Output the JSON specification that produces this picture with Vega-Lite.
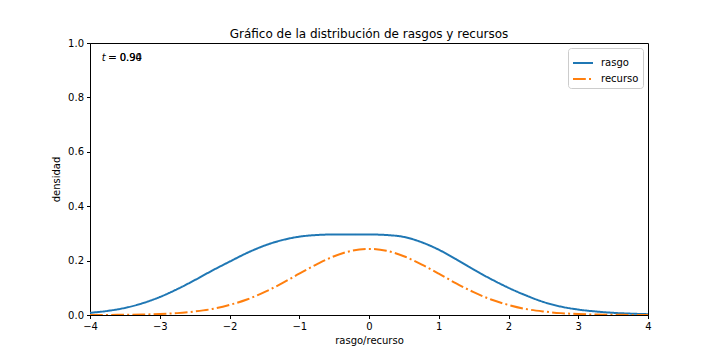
{
  "$schema": "https://vega.github.io/schema/vega-lite/v6.json",
  "width": 558,
  "height": 272,
  "autosize": {"type": "none"},
  "padding": {"left": 90, "top": 43, "right": 72, "bottom": 45},
  "background": "white",
  "title": {"text": "Gráfico de la distribución de rasgos y recursos", "font": "DejaVu Sans", "fontSize": 12, "fontWeight": "normal", "color": "black", "offset": -3},
  "config": {
    "view": {"stroke": "black", "strokeWidth": 1},
    "axis": {"domainColor": "black", "tickColor": "black", "tickSize": 3.5, "labelColor": "black", "labelFont": "DejaVu Sans", "labelFontSize": 10, "labelPadding": 3, "labelFlush": false, "titleFont": "DejaVu Sans", "titleFontSize": 10, "titleFontWeight": "normal", "titleColor": "black", "grid": false},
    "legend": {"labelFont": "DejaVu Sans", "labelFontSize": 10, "labelColor": "black"}
  },
  "datasets": {
    "curvas": [
      {"x": -4, "densidad": 0.008, "serie": "rasgo"},
      {"x": -3.75, "densidad": 0.015, "serie": "rasgo"},
      {"x": -3.5, "densidad": 0.026, "serie": "rasgo"},
      {"x": -3.25, "densidad": 0.043, "serie": "rasgo"},
      {"x": -3, "densidad": 0.066, "serie": "rasgo"},
      {"x": -2.75, "densidad": 0.095, "serie": "rasgo"},
      {"x": -2.5, "densidad": 0.128, "serie": "rasgo"},
      {"x": -2.25, "densidad": 0.163, "serie": "rasgo"},
      {"x": -2, "densidad": 0.196, "serie": "rasgo"},
      {"x": -1.75, "densidad": 0.228, "serie": "rasgo"},
      {"x": -1.5, "densidad": 0.255, "serie": "rasgo"},
      {"x": -1.25, "densidad": 0.275, "serie": "rasgo"},
      {"x": -1, "densidad": 0.288, "serie": "rasgo"},
      {"x": -0.75, "densidad": 0.294, "serie": "rasgo"},
      {"x": -0.5, "densidad": 0.296, "serie": "rasgo"},
      {"x": -0.25, "densidad": 0.296, "serie": "rasgo"},
      {"x": 0, "densidad": 0.296, "serie": "rasgo"},
      {"x": 0.25, "densidad": 0.294, "serie": "rasgo"},
      {"x": 0.5, "densidad": 0.287, "serie": "rasgo"},
      {"x": 0.75, "densidad": 0.268, "serie": "rasgo"},
      {"x": 1, "densidad": 0.24, "serie": "rasgo"},
      {"x": 1.25, "densidad": 0.205, "serie": "rasgo"},
      {"x": 1.5, "densidad": 0.167, "serie": "rasgo"},
      {"x": 1.75, "densidad": 0.132, "serie": "rasgo"},
      {"x": 2, "densidad": 0.1, "serie": "rasgo"},
      {"x": 2.25, "densidad": 0.072, "serie": "rasgo"},
      {"x": 2.5, "densidad": 0.048, "serie": "rasgo"},
      {"x": 2.75, "densidad": 0.031, "serie": "rasgo"},
      {"x": 3, "densidad": 0.02, "serie": "rasgo"},
      {"x": 3.25, "densidad": 0.013, "serie": "rasgo"},
      {"x": 3.5, "densidad": 0.008, "serie": "rasgo"},
      {"x": 3.75, "densidad": 0.005, "serie": "rasgo"},
      {"x": 4, "densidad": 0.003, "serie": "rasgo"},
      {"x": -4, "densidad": 0.0001, "serie": "recurso"},
      {"x": -3.75, "densidad": 0.0003, "serie": "recurso"},
      {"x": -3.5, "densidad": 0.0008, "serie": "recurso"},
      {"x": -3.25, "densidad": 0.0017, "serie": "recurso"},
      {"x": -3, "densidad": 0.0035, "serie": "recurso"},
      {"x": -2.75, "densidad": 0.0069, "serie": "recurso"},
      {"x": -2.5, "densidad": 0.013, "serie": "recurso"},
      {"x": -2.25, "densidad": 0.022, "serie": "recurso"},
      {"x": -2, "densidad": 0.037, "serie": "recurso"},
      {"x": -1.75, "densidad": 0.057, "serie": "recurso"},
      {"x": -1.5, "densidad": 0.084, "serie": "recurso"},
      {"x": -1.25, "densidad": 0.116, "serie": "recurso"},
      {"x": -1, "densidad": 0.152, "serie": "recurso"},
      {"x": -0.75, "densidad": 0.186, "serie": "recurso"},
      {"x": -0.5, "densidad": 0.216, "serie": "recurso"},
      {"x": -0.25, "densidad": 0.236, "serie": "recurso"},
      {"x": 0, "densidad": 0.243, "serie": "recurso"},
      {"x": 0.25, "densidad": 0.236, "serie": "recurso"},
      {"x": 0.5, "densidad": 0.216, "serie": "recurso"},
      {"x": 0.75, "densidad": 0.186, "serie": "recurso"},
      {"x": 1, "densidad": 0.152, "serie": "recurso"},
      {"x": 1.25, "densidad": 0.116, "serie": "recurso"},
      {"x": 1.5, "densidad": 0.084, "serie": "recurso"},
      {"x": 1.75, "densidad": 0.057, "serie": "recurso"},
      {"x": 2, "densidad": 0.037, "serie": "recurso"},
      {"x": 2.25, "densidad": 0.022, "serie": "recurso"},
      {"x": 2.5, "densidad": 0.013, "serie": "recurso"},
      {"x": 2.75, "densidad": 0.0069, "serie": "recurso"},
      {"x": 3, "densidad": 0.0035, "serie": "recurso"},
      {"x": 3.25, "densidad": 0.0017, "serie": "recurso"},
      {"x": 3.5, "densidad": 0.0008, "serie": "recurso"},
      {"x": 3.75, "densidad": 0.0003, "serie": "recurso"},
      {"x": 4, "densidad": 0.0001, "serie": "recurso"}
    ],
    "simbolo": [{"x": -3.83, "y": 0.945, "label": "t"}],
    "valores": [
      {"x": -3.74, "y": 0.945, "label": "= 0.90"},
      {"x": -3.74, "y": 0.945, "label": "= 0.94"}
    ]
  },
  "layer": [
    {
      "data": {"name": "curvas"},
      "mark": {"type": "line", "strokeWidth": 2, "interpolate": "monotone", "clip": true},
      "encoding": {
        "x": {"field": "x", "type": "quantitative", "scale": {"domain": [-4, 4], "nice": false, "zero": false}, "axis": {"values": [-4, -3, -2, -1, 0, 1, 2, 3, 4], "format": "d", "title": "rasgo/recurso", "titlePadding": 4}},
        "y": {"field": "densidad", "type": "quantitative", "scale": {"domain": [0, 1], "nice": false}, "axis": {"values": [0, 0.2, 0.4, 0.6, 0.8, 1.0], "format": ".1f", "title": "densidad", "titlePadding": 6}},
        "color": {"field": "serie", "type": "nominal", "scale": {"domain": ["rasgo", "recurso"], "range": ["#1f77b4", "#ff7f0e"]}, "legend": {"title": null, "orient": "top-right", "offset": 5, "symbolType": "stroke", "symbolSize": 400, "symbolStrokeWidth": 2, "strokeColor": "#cccccc", "fillColor": "white", "padding": 4, "cornerRadius": 3, "rowPadding": 0, "labelOffset": 7}},
        "strokeDash": {"field": "serie", "type": "nominal", "scale": {"domain": ["rasgo", "recurso"], "range": [[1, 0], [12.8, 3.2, 2, 3.2]]}, "legend": null}
      }
    },
    {
      "data": {"name": "simbolo"},
      "mark": {"type": "text", "align": "left", "baseline": "middle", "font": "DejaVu Sans", "fontSize": 10, "fontStyle": "italic", "color": "black"},
      "encoding": {
        "x": {"field": "x", "type": "quantitative"},
        "y": {"field": "y", "type": "quantitative"},
        "text": {"field": "label"}
      }
    },
    {
      "data": {"name": "valores"},
      "mark": {"type": "text", "align": "left", "baseline": "middle", "font": "DejaVu Sans", "fontSize": 10, "color": "black"},
      "encoding": {
        "x": {"field": "x", "type": "quantitative"},
        "y": {"field": "y", "type": "quantitative"},
        "text": {"field": "label"}
      }
    }
  ]
}
